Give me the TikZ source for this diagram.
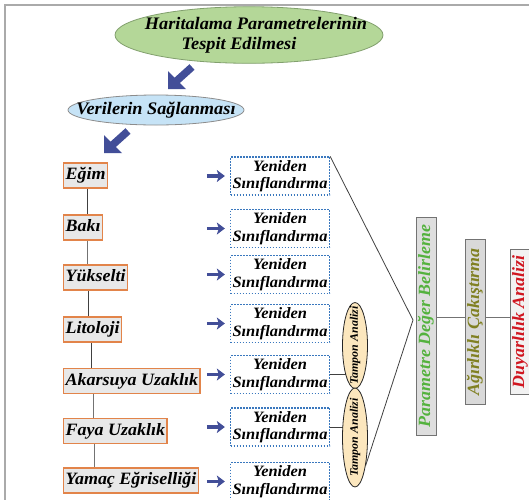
\documentclass[tikz,border=0pt]{standalone}
\usepackage{fontspec}
\usepackage{graphicx}
\newfontfamily\cfont{Liberation Serif}[FakeStretch=1.04]
\usetikzlibrary{shapes.geometric,arrows.meta,backgrounds,calc}
\newcommand\myfnt[2]{\cfont\bfseries\itshape\fontsize{#1}{#2}\selectfont}
\definecolor{titlegreen}{RGB}{180,215,152}
\definecolor{titlegreenb}{RGB}{130,160,110}
\definecolor{lightblue}{RGB}{198,227,246}
\definecolor{arrowblue}{RGB}{66,78,152}
\definecolor{boxorange}{RGB}{226,132,74}
\definecolor{boxgray}{RGB}{232,232,232}
\definecolor{dashblue}{RGB}{58,120,190}
\definecolor{peach}{RGB}{252,231,190}
\definecolor{pgreen}{RGB}{84,178,62}
\definecolor{polive}{RGB}{128,128,34}
\definecolor{pred}{RGB}{208,22,32}
\definecolor{framegray}{RGB}{170,170,170}
\tikzset{
  titleell/.style={ellipse, draw=titlegreenb, fill=titlegreen, line width=0.8pt,
    minimum width=268pt, minimum height=55pt, inner sep=0pt, font=\myfnt{17.6}{20}},
  dataell/.style={ellipse, draw=black!45, fill=lightblue, line width=0.8pt,
    minimum width=176pt, minimum height=30pt, inner sep=0pt, font=\myfnt{17.6}{20}},
  factor/.style={draw=boxorange, fill=boxgray, line width=1.3pt, inner xsep=2pt, inner ysep=0pt,
    minimum height=25pt, text height=12.5pt, text depth=4pt, anchor=west, font=\myfnt{17.3}{18}},
  reclass/.style={draw=dashblue, dash pattern=on 1.6pt off 1.4pt, line width=1.3pt, fill=white,
    minimum width=99pt, minimum height=38pt, inner sep=0pt, align=center, font=\myfnt{15.8}{17.5}},
  tampon/.style={ellipse, draw=black!85, fill=peach, line width=0.8pt, minimum width=25pt,
    inner sep=0pt, font=\myfnt{11.5}{12}},
  vbox/.style={draw=black!55, line width=0.9pt, minimum width=20pt, inner xsep=1.5pt, inner ysep=3pt,
    font=\myfnt{17.2}{18}},
  smallarrow/.style={arrowblue, line width=3.5pt, -{Stealth[length=8pt,width=12pt,inset=2pt]}},
  conn/.style={draw=black!75, line width=0.8pt},
  bigarrow/.pic={
    \fill[arrowblue] (0,-18) -- (0,0) -- (18,0) -- (11,-7) -- (7,-7) -- (7,-11) -- cycle;
    \draw[arrowblue, line width=7.5pt] (4,-4) -- (24,-22);
  }
}
\begin{document}
\begin{tikzpicture}[x=1pt,y=-1pt]
\useasboundingbox (0,0) rectangle (529,499);
\clip (0,0) rectangle (529,499);
\draw[framegray, line width=1.2pt] (5,5) rectangle (545,515);

% top ellipses and big arrows
\node[titleell] (title) at (249,35) {\makebox[0pt]{\begin{tabular}{@{}c@{}}\hspace*{14pt}Haritalama Parametrelerinin\\Tespit Edilmesi\hspace*{20pt}\end{tabular}}};
\pic at (168,89) {bigarrow};
\node[dataell] (data) at (156,110) {\makebox[0pt]{Verilerin Sağlanması}};
\pic at (104,153) {bigarrow};

% factor boxes
\node[factor] (egim)  at (63,175.5) {Eğim};
\node[factor] (baki)  at (63,227.5) {Bakı};
\node[factor] (yuk)   at (63,277.5) {Yükselti};
\node[factor] (lit)   at (63,329.5) {Litoloji};
\node[factor] (aka)   at (63,381)   {Akarsuya Uzaklık};
\node[factor] (faya)  at (63,431)   {Faya Uzaklık};
\node[factor] (yamac) at (63,480.5) {Yamaç Eğriselliği};

% reclassification boxes
\node[reclass] (yen1) at (280,176)   {Yeniden\\Sınıflandırma};
\node[reclass] (yen2) at (280,228.5) {Yeniden\\Sınıflandırma};
\node[reclass] (yen3) at (280,274.5) {Yeniden\\Sınıflandırma};
\node[reclass] (yen4) at (280,323.5) {Yeniden\\Sınıflandırma};
\node[reclass] (yen5) at (280,374.5) {Yeniden\\Sınıflandırma};
\node[reclass] (yen6) at (280,427)   {Yeniden\\Sınıflandırma};
\node[reclass] (yen7) at (280,481.5) {Yeniden\\Sınıflandırma};

\foreach \n in {yen1,yen2,yen3,yen4,yen5,yen6,yen7}
  \draw[smallarrow] ([xshift=-23pt]\n.west) -- ([xshift=-5pt]\n.west);

% buffer ellipses
\node[tampon, minimum height=86pt] (tamp1) at (355,345.5) {\rotatebox{90}{\makebox[0pt]{Tampon Analizi}}};
\node[tampon, minimum height=99pt] (tamp2) at (355,437.5) {\rotatebox{90}{\makebox[0pt]{Tampon Analizi}}};

% vertical process boxes
\node[vbox, fill=black!13, text=pgreen, minimum height=218pt] (param) at (426,326) {\rotatebox{90}{Parametre Değer Belirleme}};
\node[vbox, fill=black!15, text=polive, minimum height=165pt] (agir) at (475,322) {\rotatebox{90}{Ağırlıklı Çakıştırma}};
\node[vbox, fill=black!5, text=pred, minimum height=145pt] (duyar) at (520,322) {\rotatebox{90}{Duyarlılık Analizi}};

\coordinate (apex) at (413,320);

\begin{scope}[on background layer]
\draw[conn] ([xshift=24pt]egim.south west) -- ([xshift=24pt]baki.north west);
\draw[conn, draw=black!55] ([xshift=24pt]baki.south west) -- ([xshift=24pt]yuk.north west);
\draw[conn] ([xshift=25pt]yuk.south west) -- ([xshift=25pt]lit.north west);
\draw[conn] ([xshift=28pt]lit.south west) -- ([xshift=28pt]aka.north west);
\draw[conn, draw=black!55] ([xshift=30pt]aka.south west) -- ([xshift=30pt]faya.north west);
\draw[conn, draw=black!55] ([xshift=31pt]faya.south west) -- ([xshift=31pt]yamac.north west);
\draw[conn] (yen1.north east) -- (apex) -- (tamp2.-69);
\draw[conn] (yen5.east) -- (yen5.east -| tamp1.center);
\draw[conn] (yen6.east) -- (yen6.east -| tamp2.center);
\draw[conn, draw=black!55] ([yshift=9pt]param.east) -- ([yshift=9pt]param.east -| agir.west);
\draw[conn, draw=black!55] ([yshift=5pt]agir.east) -- ([yshift=5pt]agir.east -| duyar.west);
\end{scope}
\end{tikzpicture}
\end{document}
